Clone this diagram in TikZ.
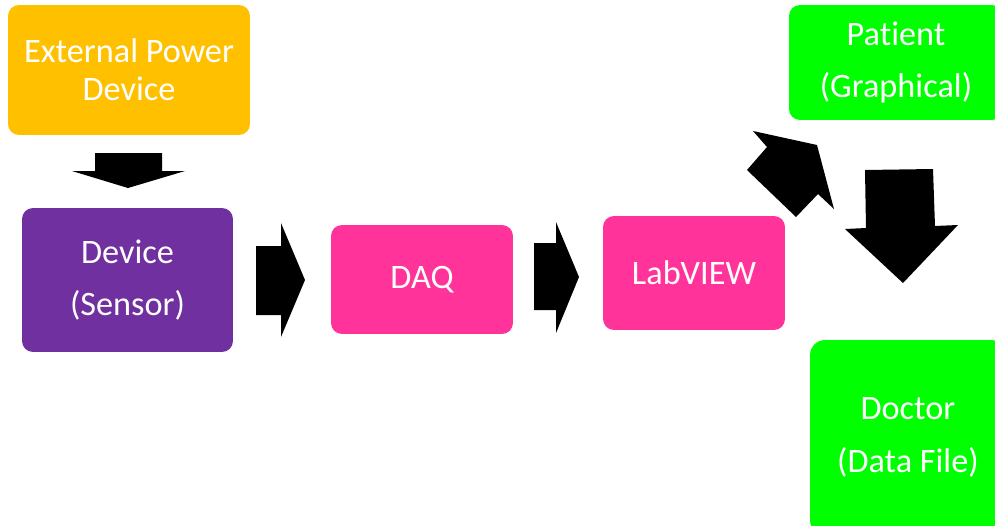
\documentclass[tikz,border=0pt]{standalone}
\usepackage{fontspec}
\setmainfont[Ligatures=NoCommon]{Carlito}
\usepackage{tikz}
\definecolor{powerorange}{HTML}{FFC000}
\definecolor{sensorpurple}{HTML}{7030A0}
\definecolor{daqpink}{HTML}{FF3399}
\definecolor{outgreen}{HTML}{00FF00}

\begin{document}
\begin{tikzpicture}[
    x = 0.02cm, y = -0.02cm,
    box/.style = {rounded corners=0.22cm, text=white, align=center,
        inner sep=0mm, font=\fontsize{19.5}{30}\selectfont},
    blockarrow/.style = {fill=black}
  ]
  \useasboundingbox (0,0) rectangle (995,525);

  % boxes
  \node[box, fill=powerorange, minimum width=4.84cm, minimum height=2.6cm,
        font=\fontsize{19.5}{21.6}\selectfont] (power) at (129,70) {External Power\\Device};
  \node[box, fill=sensorpurple, minimum width=4.22cm, minimum height=2.88cm] (sensor) at (127.5,280) {Device\\(Sensor)};
  \node[box, fill=daqpink, minimum width=3.64cm, minimum height=2.18cm] (daq) at (422,279.5) {DAQ};
  \node[box, fill=daqpink, minimum width=3.64cm, minimum height=2.28cm] (labview) at (694,273) {LabVIEW};
  \node[box, fill=outgreen, minimum width=4.28cm, minimum height=2.3cm] (patient) at (896,62.5) {Patient\\(Graphical)};
  \node[box, fill=outgreen, minimum width=3.92cm, minimum height=3.9cm,
        rounded corners=0.3cm] (doctor) at (908,437.5) {Doctor\\(Data File)};

  % block arrows
  \fill[blockarrow] (95,153) -- (162,153) -- (162,171) -- (185,171) -- (128,188)
    -- (72,171) -- (95,171) -- cycle;
  \fill[blockarrow] (256,246) -- (281,246) -- (281,223) -- (305,280) -- (281,337)
    -- (281,315) -- (256,315) -- cycle;
  \fill[blockarrow] (534,243) -- (556,243) -- (556,222) -- (579,277) -- (556,333)
    -- (556,310) -- (534,310) -- cycle;
  \fill[blockarrow] (753,131) -- (817,145) -- (834,209) -- (818,194) -- (796,217)
    -- (747,170) -- (767,147) -- cycle;
  \fill[blockarrow] (865,170) -- (933,169) -- (935,226) -- (958,225) -- (903,283)
    -- (845,229) -- (866,228) -- cycle;
\end{tikzpicture}
\end{document}
